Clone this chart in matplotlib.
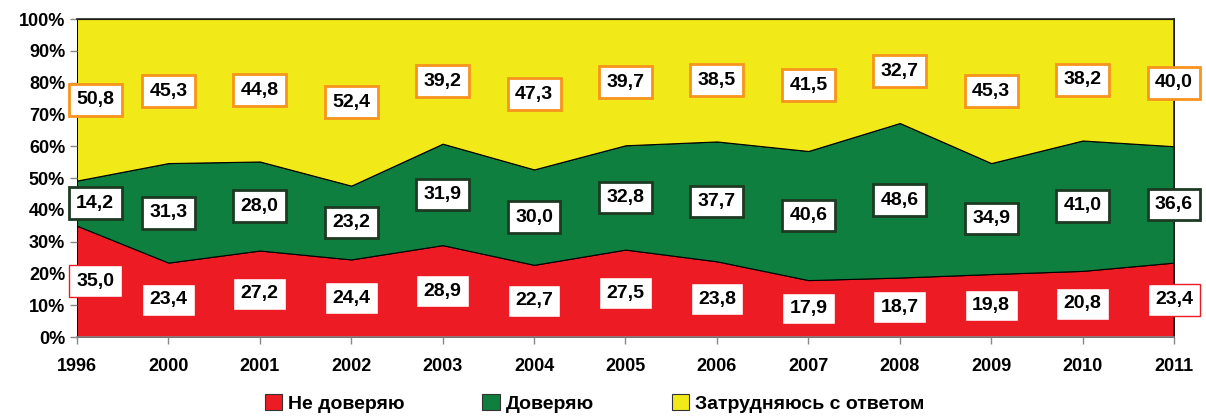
import matplotlib.pyplot as plt
import numpy as np
from matplotlib.patches import Patch

years = ["1996", "2000", "2001", "2002", "2003", "2004", "2005",
         "2006", "2007", "2008", "2009", "2010", "2011"]
distrust = [35.0, 23.4, 27.2, 24.4, 28.9, 22.7, 27.5, 23.8, 17.9, 18.7, 19.8, 20.8, 23.4]
trust = [14.2, 31.3, 28.0, 23.2, 31.9, 30.0, 32.8, 37.7, 40.6, 48.6, 34.9, 41.0, 36.6]
unsure = [50.8, 45.3, 44.8, 52.4, 39.2, 47.3, 39.7, 38.5, 41.5, 32.7, 45.3, 38.2, 40.0]

names = ["Не доверяю", "Доверяю", "Затрудняюсь с ответом"]
colors = ["#ED1C24", "#0E7F3E", "#F2EA18"]
borders = ["#ED1C24", "#1D3A22", "#F7941D"]
border_w = [1.0, 2.0, 2.0]

plt.rcParams['font.family'] = ['Liberation Sans', 'DejaVu Sans']
plt.rcParams['font.weight'] = 'bold'

fig = plt.figure(figsize=(12.06, 4.17), dpi=100)
ax = fig.add_axes([0.0638, 0.1918, 0.9097, 0.7626])

x = np.arange(len(years))
series = [np.array(distrust), np.array(trust), np.array(unsure)]
ax.stackplot(x, *series, colors=colors, edgecolor="black", linewidth=0.8)

# value labels in boxes, centered in each band
bottom = np.zeros(len(years))
for s, bc, bw in zip(series, borders, border_w):
    mid = bottom + s / 2
    for i, v in enumerate(s):
        xi = x[i] + (0.2 if i == 0 else 0)
        ax.text(xi, mid[i], f"{v:.1f}".replace(".", ","), ha="center", va="center",
                fontsize=14, fontweight="bold", color="black", zorder=5,
                bbox=dict(boxstyle="square,pad=0.38", fc="white", ec=bc, lw=bw))
    bottom = bottom + s

ax.set_xlim(0, len(years) - 1)
ax.set_ylim(0, 100)
ax.set_xticks(x)
ax.set_xticklabels(years)
ax.set_yticks(range(0, 101, 10))
ax.set_yticklabels([f"{v}%" for v in range(0, 101, 10)])
ax.tick_params(axis="both", labelsize=13, colors="#888888", labelcolor="black",
               length=5, width=1)
ax.tick_params(axis="x", pad=10)
for lab in ax.get_xticklabels() + ax.get_yticklabels():
    lab.set_fontweight("bold")
for sp in ax.spines.values():
    sp.set_color("#222222")
    sp.set_linewidth(1.2)
ax.spines["left"].set_visible(False)
ax.spines["bottom"].set_color("#888888")

handles = [Patch(facecolor=c, edgecolor="#333333", linewidth=0.8) for c in colors]
leg = fig.legend(handles, names, loc="center", bbox_to_anchor=(0.493, 0.033), ncol=3,
                 frameon=False, fontsize=14, handlelength=0.9, handleheight=0.9,
                 handletextpad=0.3, columnspacing=4.0)
for t in leg.get_texts():
    t.set_fontweight("bold")

fig.savefig("out.png", dpi=100)
